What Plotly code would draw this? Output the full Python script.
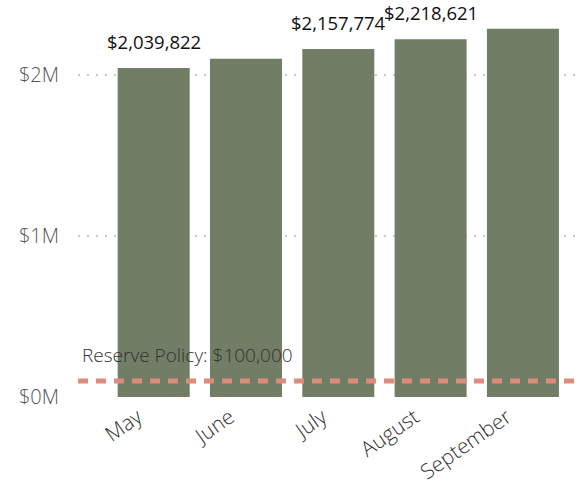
import plotly.graph_objects as go

months = ["May", "June", "July", "August", "September"]
balances = [2039822, 2097000, 2157774, 2218621, 2284000]
shown_labels = ["$2,039,822", "", "$2,157,774", "$2,218,621", ""]
reserve_policy = 100000
y_tickvals = [0, 1000000, 2000000]
y_ticktext = ["$0M", "$1M", "$2M"]

fig = go.Figure()

fig.add_trace(
    go.Bar(
        x=months,
        y=balances,
        marker=dict(color="#717D64", line=dict(width=0)),
        hoverinfo="skip",
    )
)

# rótulos de valor (só os que aparecem)
for m, v, lab in zip(months, balances, shown_labels):
    if lab:
        fig.add_annotation(
            x=m, y=v, text=lab, showarrow=False,
            yanchor="bottom", yshift=12,
            font=dict(size=18.5, color="#111111", family="Open Sans"),
        )

# linha da política de reserva
fig.add_hline(
    y=reserve_policy,
    line=dict(color="#DE8A7C", width=5, dash="10px,8px"),
)
fig.add_annotation(
    xref="paper", x=0.0, y=reserve_policy, text="Reserve Policy: $100,000",
    showarrow=False, xanchor="left", yanchor="bottom", yshift=11, xshift=2,
    font=dict(size=19, color="#333333", family="Open Sans", weight=300),
)

fig.update_layout(
    width=582,
    height=487,
    margin=dict(l=78, r=0, t=10, b=90),
    plot_bgcolor="white",
    paper_bgcolor="white",
    showlegend=False,
    bargap=0.22,
    font=dict(family="Open Sans"),
)

fig.update_yaxes(
    range=[0, 2400000],
    tickvals=y_tickvals,
    ticktext=y_ticktext,
    tickfont=dict(size=20, color="#555555", family="Open Sans", weight=300),
    showgrid=True,
    gridcolor="#C8C8C8",
    griddash="2px,7px",
    gridwidth=2,
    zeroline=False,
    ticklabelstandoff=18,
    automargin=False,
)

fig.update_xaxes(
    range=[-0.82, 4.64],
    tickangle=-35,
    tickfont=dict(size=21, color="#333333", family="Open Sans", weight=300),
    showgrid=False,
    ticklabelshift=-16,
    ticklabelstandoff=3,
    automargin=False,
)

# tira a margem padrão do body para o gráfico ficar colado no canto
fig.write_html(
    "out.html",
    config={"displayModeBar": False},
    post_script="document.body.style.margin='0';",
)
